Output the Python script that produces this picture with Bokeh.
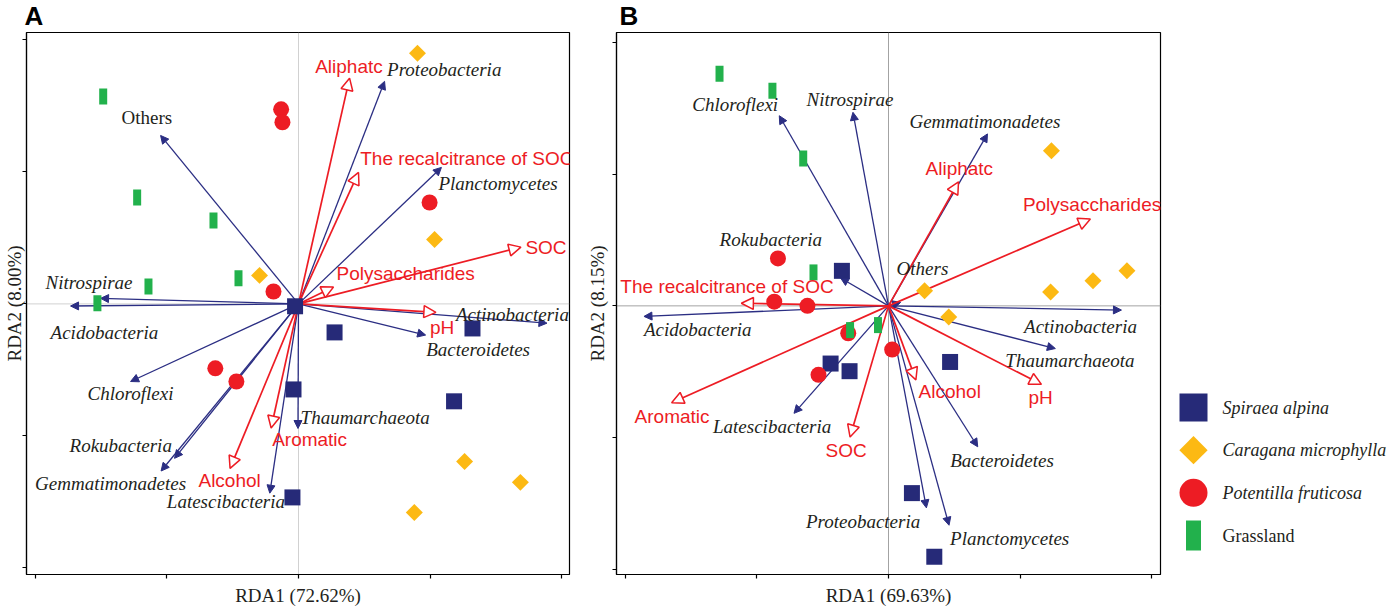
import numpy as np
from bokeh.plotting import figure
from bokeh.models import ColumnDataSource, Arrow, NormalHead, Span, FixedTicker, Range1d
from bokeh.layouts import row
from bokeh.embed import file_html
from bokeh.resources import INLINE
from bokeh.core.properties import value

# ---------------- data ----------------
groups = ["Spiraea alpina", "Caragana microphylla", "Potentilla fruticosa", "Grassland"]
tick_values = [-1.0, -0.5, 0.0, 0.5, 1.0]

# Panel A: sample scores
a_spiraea_x = [-0.013, 0.137, 0.661, -0.019, 0.591, -0.023]
a_spiraea_y = [-0.009, -0.108, -0.093, -0.324, -0.369, -0.733]
a_caragana_x = [0.452, 0.517, -0.148, 0.631, 0.843, 0.440]
a_caragana_y = [0.949, 0.244, 0.108, -0.597, -0.676, -0.790]
a_potentilla_x = [-0.066, -0.061, 0.498, -0.095, -0.316, -0.236]
a_potentilla_y = [0.737, 0.688, 0.384, 0.047, -0.244, -0.294]
a_grass_x = [-0.742, -0.613, -0.323, -0.570, -0.228, -0.764]
a_grass_y = [0.786, 0.403, 0.316, 0.066, 0.097, 0.002]

# Panel A: species (blue) and environmental (red) vectors
a_species = ["Proteobacteria", "Others", "Planctomycetes", "Nitrospirae", "Acidobacteria",
             "Actinobacteria", "Bacteroidetes", "Chloroflexi", "Rokubacteria",
             "Gemmatimonadetes", "Latescibacteria", "Thaumarchaeota"]
a_species_x = [0.327, -0.524, 0.543, -0.752, -0.866, 0.944, 0.483, -0.638, -0.471, -0.522, -0.109, -0.002]
a_species_y = [0.843, 0.638, 0.517, 0.021, -0.008, -0.073, -0.118, -0.294, -0.585, -0.633, -0.717, -0.472]
a_env = ["Aliphatc", "The recalcitrance of SOC", "SOC", "Polysaccharides", "pH", "Aromatic", "Alcohol"]
a_env_x = [0.194, 0.228, 0.845, 0.133, 0.522, -0.104, -0.260]
a_env_y = [0.855, 0.498, 0.215, 0.064, -0.032, -0.470, -0.623]

# Panel B: sample scores
b_spiraea_x = [-0.177, -0.220, -0.148, 0.234, 0.089, 0.174]
b_spiraea_y = [0.133, -0.219, -0.248, -0.213, -0.711, -0.953]
b_caragana_x = [0.619, 0.137, 0.616, 0.777, 0.906, 0.229]
b_caragana_y = [0.589, 0.057, 0.053, 0.095, 0.133, -0.042]
b_potentilla_x = [-0.420, -0.434, -0.308, -0.153, 0.014, -0.266]
b_potentilla_y = [0.180, 0.016, 0.000, -0.104, -0.166, -0.262]
b_grass_x = [-0.642, -0.441, -0.324, -0.285, -0.146, -0.040]
b_grass_y = [0.881, 0.817, 0.560, 0.127, -0.092, -0.073]

b_species = ["Chloroflexi", "Nitrospirae", "Gemmatimonadetes", "Rokubacteria", "Others",
             "Acidobacteria", "Actinobacteria", "Thaumarchaeota", "Bacteroidetes",
             "Planctomycetes", "Proteobacteria", "Latescibacteria"]
b_species_x = [-0.415, -0.135, 0.376, -0.182, 0.046, -0.929, 0.885, 0.634, 0.339, 0.230, 0.144, -0.359]
b_species_y = [0.722, 0.735, 0.653, 0.106, 0.013, -0.040, -0.016, -0.162, -0.535, -0.833, -0.767, -0.408]
b_env = ["Aliphatc", "Polysaccharides", "The recalcitrance of SOC", "Aromatic", "SOC", "Alcohol", "pH"]
b_env_x = [0.266, 0.767, -0.559, -0.824, -0.146, 0.104, 0.581]
b_env_y = [0.471, 0.330, 0.010, -0.368, -0.498, -0.281, -0.298]

# ---------------- layout / style ----------------
NAVY = "#262A78"
ARROW_BLUE = "#2B2E83"
ORANGE = "#FCB913"
RED = "#ED1C24"
GREEN = "#22B14C"
INK = "#231F20"
SERIF = "Liberation Serif"
SANS = "Liberation Sans"
FS = "19px"
H = 608
TOP, BOTTOM = 32, 34   # shared borders (frames of a row are aligned)

# label offsets from arrow tips, in screen pixels (dx right, dy down)
a_species_off = {"Proteobacteria": (2.5, -12), "Others": (-39, -18), "Planctomycetes": (-3, 16),
                 "Nitrospirae": (-55, -16), "Acidobacteria": (-20, 26), "Actinobacteria": (-91, -9),
                 "Bacteroidetes": (0.6, 14), "Chloroflexi": (-43, 12), "Rokubacteria": (-105, -13),
                 "Gemmatimonadetes": (-126, 12), "Latescibacteria": (-103, 8), "Thaumarchaeota": (2.6, -11)}
a_env_off = {"Aliphatc": (-34.4, -12), "The recalcitrance of SOC": (1.7, -14), "SOC": (4.5, 0),
             "Polysaccharides": (3, -13.7), "pH": (-6, 15), "Aromatic": (1, 12), "Alcohol": (-31.6, 12)}
b_species_off = {"Chloroflexi": (-87, -11), "Nitrospirae": (-46.5, -12.7), "Gemmatimonadetes": (-78, -12.6),
                 "Rokubacteria": (-121, -38), "Others": (-4, -34), "Acidobacteria": (0, 13),
                 "Actinobacteria": (-97.4, 16.7), "Thaumarchaeota": (-50, 11.6), "Bacteroidetes": (-27.6, 13.6),
                 "Planctomycetes": (1, 13.3), "Proteobacteria": (-120.5, 13.3), "Latescibacteria": (-81, 13.4)}
b_env_off = {"Aliphatc": (-33, -13.7), "Polysaccharides": (-67.5, -14), "The recalcitrance of SOC": (-121, -16.6),
             "Aromatic": (-37, 13.3), "SOC": (-24.5, 13), "Alcohol": (2.7, 11.7), "pH": (-13, 12.7)}


def make_panel(letter, xlabel, ylabel, xr, yr, width, lb, rb, center_dash,
               samples, species, sp_x, sp_y, sp_off, sp_styles,
               env, env_x, env_y, env_off, letter_off, xstand, ystand):
    p = figure(width=width, height=H, x_range=Range1d(*xr), y_range=Range1d(*yr),
               toolbar_location=None, output_backend="svg", title=letter,
               min_border_left=lb, min_border_right=rb, min_border_top=TOP, min_border_bottom=BOTTOM)
    p.title.text_font = SANS
    p.title.text_font_style = "bold"
    p.title.text_font_size = "26px"
    p.title.text_color = "black"
    p.title.standoff = 0
    p.title.vertical_align = "top"
    p.title.offset = letter_off
    p.title.align = "left"
    p.grid.visible = False
    p.outline_line_color = "black"
    p.outline_line_width = 1.2
    p.background_fill_color = "white"
    p.border_fill_color = "white"
    p.xaxis.ticker = FixedTicker(ticks=tick_values)
    p.yaxis.ticker = FixedTicker(ticks=tick_values)
    for ax in (p.xaxis[0], p.yaxis[0]):
        ax.major_label_text_font_size = "0px"
        ax.major_label_text_color = None
        ax.major_label_standoff = 0
        ax.major_tick_in = 0
        ax.major_tick_out = 4
        ax.minor_tick_line_color = None
        ax.axis_line_color = "black"
        ax.axis_line_width = 1.2
        ax.major_tick_line_color = "black"
        ax.major_tick_line_width = 1.2
        ax.axis_label_text_font = SERIF
        ax.axis_label_text_font_style = "normal"
        ax.axis_label_text_font_size = "19px"
        ax.axis_label_text_color = INK
    p.xaxis.axis_label = xlabel
    p.yaxis.axis_label = ylabel
    p.xaxis.axis_label_standoff = xstand
    p.yaxis.axis_label_standoff = ystand

    # centre lines
    p.add_layout(Span(location=0, dimension="width", line_color="#8c8c8c", line_width=0.8,
                      line_dash=center_dash, level="underlay"))
    p.add_layout(Span(location=0, dimension="height", line_color="#8c8c8c", line_width=0.8,
                      line_dash=center_dash, level="underlay"))

    # arrows
    sp_src = ColumnDataSource(dict(x=sp_x, y=sp_y, name=species,
                                   dx=[sp_off[s][0] for s in species],
                                   dy=[sp_off[s][1] for s in species],
                                   style=sp_styles))
    env_src = ColumnDataSource(dict(x=env_x, y=env_y, name=env,
                                    dx=[env_off[s][0] for s in env],
                                    dy=[env_off[s][1] for s in env]))
    p.add_layout(Arrow(x_start=0, y_start=0, x_end="x", y_end="y", source=sp_src,
                       line_color=ARROW_BLUE, line_width=1.3, level="underlay",
                       end=NormalHead(size=8, fill_color=ARROW_BLUE, line_color=ARROW_BLUE, line_width=1)))
    p.add_layout(Arrow(x_start=0, y_start=0, x_end="x", y_end="y", source=env_src,
                       line_color=RED, line_width=1.7, level="underlay",
                       end=NormalHead(size=12, fill_color="white", line_color=RED, line_width=1.5)))

    # samples
    (spx, spy), (cax, cay), (pox, poy), (grx, gry) = samples
    p.scatter(spx, spy, marker="square", size=16, fill_color=NAVY, line_color=None)
    p.scatter(cax, cay, marker="square", angle=np.pi / 4, size=12, fill_color=ORANGE, line_color=None)
    p.scatter(pox, poy, marker="circle", size=16, fill_color=RED, line_color=None)
    p.rect(grx, gry, width=8, height=16, width_units="screen", height_units="screen",
           fill_color=GREEN, line_color=None)

    # labels
    p.text(x="x", y="y", text="name", source=sp_src, x_offset="dx", y_offset="dy",
           text_font=value(SERIF), text_font_style=dict(field="style"), text_font_size=value(FS),
           text_color=INK, text_align="left", text_baseline="middle")
    p.text(x="x", y="y", text="name", source=env_src, x_offset="dx", y_offset="dy",
           text_font=value(SANS), text_font_size=value(FS),
           text_color=RED, text_align="left", text_baseline="middle")
    return p


pa = make_panel("A", "RDA1 (72.62%)", "RDA2 (8.00%)", (-1.0334, 1.0296), (-1.025, 1.028),
                583, 26, 14, "1 1",
                [(a_spiraea_x, a_spiraea_y), (a_caragana_x, a_caragana_y),
                 (a_potentilla_x, a_potentilla_y), (a_grass_x, a_grass_y)],
                a_species, a_species_x, a_species_y, a_species_off,
                ["normal" if s == "Others" else "italic" for s in a_species],
                a_env, a_env_x, a_env_y, a_env_off, -2, 6, -2)

pb = make_panel("B", "RDA1 (69.63%)", "RDA2 (8.15%)", (-1.0334, 1.0334), (-1.020, 1.038),
                581, 33, 4, "solid",
                [(b_spiraea_x, b_spiraea_y), (b_caragana_x, b_caragana_y),
                 (b_potentilla_x, b_potentilla_y), (b_grass_x, b_grass_y)],
                b_species, b_species_x, b_species_y, b_species_off,
                ["italic" for s in b_species],
                b_env, b_env_x, b_env_y, b_env_off, 3, 6, 5)

# legend panel (its frame shares the row's top/bottom borders; y runs in page pixels)
lg = figure(width=230, height=H, x_range=Range1d(0, 230), y_range=Range1d(H - BOTTOM, TOP),
            toolbar_location=None, output_backend="svg", title=None,
            x_axis_type=None, y_axis_type=None, min_border_left=0, min_border_right=0,
            min_border_top=TOP, min_border_bottom=BOTTOM, outline_line_color=None)
lg.grid.visible = False
row_y = [407 + 42.67 * i for i in range(len(groups))]
mx = 29
lg.scatter([mx], [row_y[0]], marker="square", size=28, fill_color=NAVY, line_color=None)
lg.scatter([mx], [row_y[1]], marker="square", angle=np.pi / 4, size=20, fill_color=ORANGE, line_color=None)
lg.scatter([mx], [row_y[2]], marker="circle", size=28, fill_color=RED, line_color=None)
lg.rect([mx], [row_y[3]], width=15, height=30, width_units="screen", height_units="screen",
        fill_color=GREEN, line_color=None)
lg_src = ColumnDataSource(dict(x=[58] * len(groups), y=row_y, text=groups,
                               style=["italic", "italic", "italic", "normal"]))
lg.text(x="x", y="y", text="text", source=lg_src, text_font=value(SERIF),
        text_font_style=dict(field="style"), text_font_size=value("18px"), text_color=INK,
        text_align="left", text_baseline="middle")

layout = row(pa, pb, lg)
open("out.html", "w").write(file_html(layout, INLINE))
